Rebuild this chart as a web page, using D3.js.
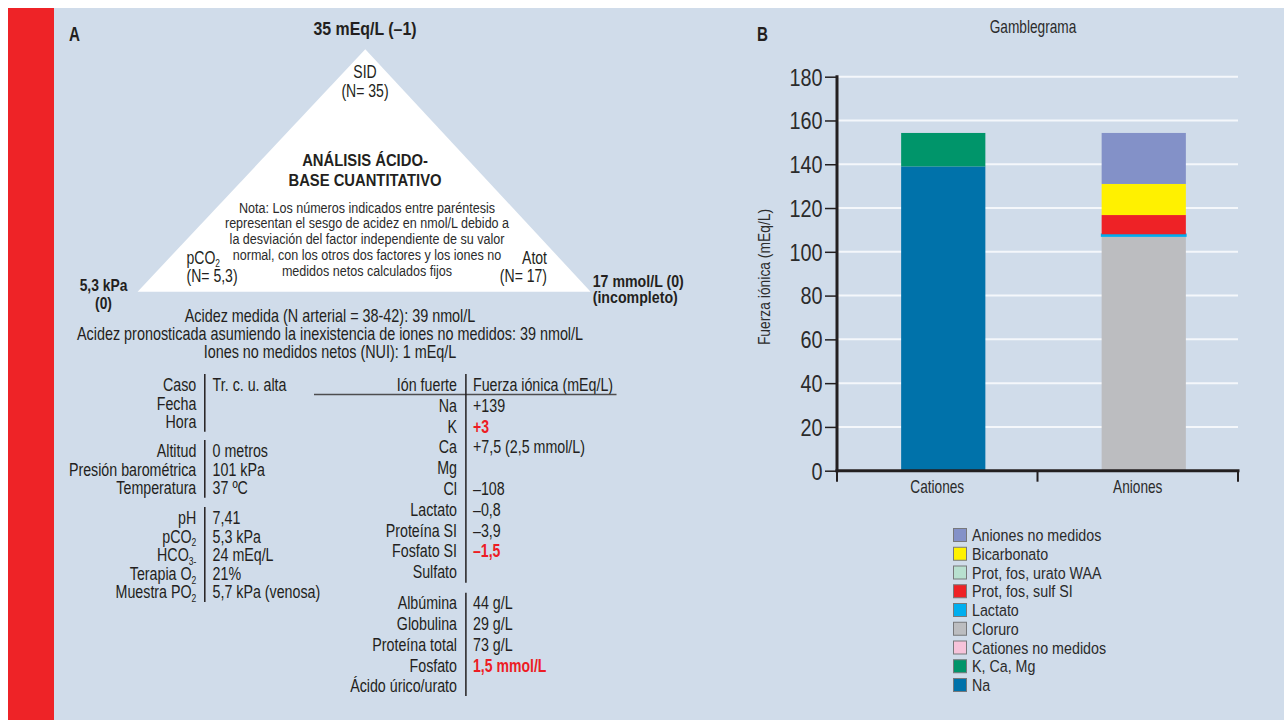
<!DOCTYPE html>
<html>
<head>
<meta charset="utf-8">
<script src="https://cdn.jsdelivr.net/npm/d3@7"></script>
<style>
  html, body { margin: 0; padding: 0; background: #ffffff; }
  svg { display: block; }
</style>
</head>
<body>
<svg id="fig" width="1284" height="720"></svg>
<script>
// ---------- Gamblegrama data ----------
const categories = ["Cationes", "Aniones"];
const seriesNames = ["Na", "K, Ca, Mg", "Cationes no medidos", "Cloruro", "Lactato",
                     "Prot, fos, sulf SI", "Prot, fos, urato WAA", "Bicarbonato", "Aniones no medidos"];
const cationValues = [139, 15.3, 0, 0, 0, 0, 0, 0, 0];
const anionValues  = [0, 0, 0, 107.2, 0.8, 8.8, 0, 14.2, 23.3];
const seriesColors = ["#0072aa", "#00956a", "#f6c3da", "#bcbdc0", "#00aeef",
                      "#ee2226", "#b8e0d0", "#fff100", "#8391c8"];
const yTicks = [0, 20, 40, 60, 80, 100, 120, 140, 160, 180];

// ---------- Acid-base summary texts ----------
const apexLabel = "35 mEq/L (–1)";
const leftCorner = ["5,3 kPa", "(0)"];
const rightCorner = ["17 mmol/L (0)", "(incompleto)"];
const triangleTitle = ["ANÁLISIS ÁCIDO-", "BASE CUANTITATIVO"];
const triangleNote = [
  "Nota: Los números indicados entre paréntesis",
  "representan el sesgo de acidez en nmol/L debido a",
  "la desviación del factor independiente de su valor",
  "normal, con los otros dos factores y los iones no",
  "medidos netos calculados fijos"
];
const vertexSID = ["SID", "(N= 35)"];
const vertexPCO2 = ["pCO_{2}", "(N= 5,3)"];
const vertexAtot = ["Atot", "(N= 17)"];
const acidezLines = [
  "Acidez medida (N arterial = 38-42): 39 nmol/L",
  "Acidez pronosticada asumiendo la inexistencia de iones no medidos: 39 nmol/L",
  "Iones no medidos netos (NUI): 1 mEq/L"
];

// patient table
const caseGroups = [
  [["Caso", "Tr. c. u. alta"], ["Fecha", ""], ["Hora", ""]],
  [["Altitud", "0 metros"], ["Presión barométrica", "101 kPa"], ["Temperatura", "37 ºC"]],
  [["pH", "7,41"], ["pCO_{2}", "5,3 kPa"], ["HCO_{3-}", "24 mEq/L"], ["Terapia O_{2}", "21%"], ["Muestra PO_{2}", "5,7 kPa (venosa)"]]
];

// strong ion table
const ionHeader = ["Ión fuerte", "Fuerza iónica (mEq/L)"];
const ionNames  = ["Na", "K", "Ca", "Mg", "Cl", "Lactato", "Proteína SI", "Fosfato SI", "Sulfato"];
const ionValues = ["+139", "+3", "+7,5 (2,5 mmol/L)", "", "–108", "–0,8", "–3,9", "–1,5", ""];
const ionAlert  = [false, true, false, false, false, false, false, true, false];
const protNames  = ["Albúmina", "Globulina", "Proteína total", "Fosfato", "Ácido úrico/urato"];
const protValues = ["44 g/L", "29 g/L", "73 g/L", "1,5 mmol/L", ""];
const protAlert  = [false, false, false, true, false];

// ---------- styling ----------
const FONT = "'Liberation Sans', Arial, Helvetica, sans-serif";
const INK = "#231f20";
const ALERT = "#ed1c24";
const BG = "#d0dcea";
const W = 1284, H = 720;

const svg = d3.select("#fig").attr("font-family", FONT);

svg.append("rect").attr("x", 54).attr("y", 8).attr("width", W - 54).attr("height", H - 8).attr("fill", BG);
svg.append("rect").attr("x", 8).attr("y", 8).attr("width", 46).attr("height", H - 8).attr("fill", "#ee2327");

// condensed text: a horizontally squeezed sans, with _{...} subscripts
function label(parent, x, y, content, o = {}) {
  const size = o.size || 18.5;
  const sx = o.sx || 0.77;
  const t = parent.append("text")
    .attr("transform", `translate(${x},${y}) scale(${sx},1)`)
    .attr("text-anchor", o.anchor || "start")
    .attr("font-size", size)
    .attr("font-weight", o.bold ? "bold" : null)
    .attr("fill", o.fill || INK);
  const re = /_\{([^}]*)\}/g;
  const drop = size * 0.2;
  let last = 0, m, shifted = false;
  while ((m = re.exec(content))) {
    if (m.index > last) {
      t.append("tspan").attr("dy", shifted ? -drop : null).text(content.slice(last, m.index));
      shifted = false;
    }
    t.append("tspan").attr("font-size", size * 0.6).attr("dy", drop).text(m[1]);
    shifted = true;
    last = re.lastIndex;
  }
  if (last < content.length) {
    t.append("tspan").attr("dy", shifted ? -drop : null).text(content.slice(last));
  }
  return t;
}

// ================= Panel A =================
const A = svg.append("g");
label(A, 69, 41, "A", { bold: true, size: 20, sx: 0.76 });

// triangle of the three independent variables
const tri = [[365.3, 49.3], [137.6, 291.7], [590.6, 291.7]];
A.append("path").attr("d", d3.line()(tri) + "Z").attr("fill", "#ffffff");

label(A, 365, 34.5, apexLabel, { bold: true, size: 18.5, sx: 0.86, anchor: "middle" });
label(A, 365, 78, vertexSID[0], { size: 18, sx: 0.78, anchor: "middle" });
label(A, 365, 97, vertexSID[1], { size: 18, sx: 0.78, anchor: "middle" });

triangleTitle.forEach((s, i) => label(A, 365, 166 + i * 19.7, s, { bold: true, size: 17, sx: 0.87, anchor: "middle" }));
triangleNote.forEach((s, i) => label(A, 367, 212.7 + i * 15.75, s, { size: 15.5, sx: 0.81, anchor: "middle", fill: "#2b2b2b" }));

vertexPCO2.forEach((s, i) => label(A, 186.5, 263.5 + i * 18.2, s, { size: 18, sx: 0.78 }));
vertexAtot.forEach((s, i) => label(A, 547, 263.5 + i * 18.2, s, { size: 18, sx: 0.78, anchor: "end" }));

leftCorner.forEach((s, i) => label(A, 103.5, 291 + i * 18, s, { bold: true, size: 16.5, sx: 0.84, anchor: "middle" }));
rightCorner.forEach((s, i) => label(A, 592.7, 286.5 + i * 16.5, s, { bold: true, size: 16.5, sx: 0.86 }));

acidezLines.forEach((s, i) => label(A, 330, 322 + i * 18.2, s, { size: 18, sx: 0.80, anchor: "middle" }));

// patient data table
const caseStarts = [391, 457, 524];
const caseStep = 18.6;
const keyX = 196.3, ruleX = 204.8, valX = 212.6;
caseGroups.forEach((rows, g) => {
  const y0 = caseStarts[g];
  A.append("line")
    .attr("x1", ruleX).attr("x2", ruleX)
    .attr("y1", y0 - 17).attr("y2", y0 + (rows.length - 1) * caseStep + 3.5)
    .attr("stroke", INK).attr("stroke-width", 1.5);
  rows.forEach(([k, v], i) => {
    label(A, keyX, y0 + i * caseStep, k, { anchor: "end" });
    if (v) label(A, valX, y0 + i * caseStep, v);
  });
});

// strong ion table
const ionKeyX = 457, ionRuleX = 465.9, ionValX = 473;
const ionY0 = 411.7, ionStep = 20.8;
label(A, ionKeyX, 390.7, ionHeader[0], { anchor: "end" });
label(A, ionValX, 390.7, ionHeader[1]);
A.append("line").attr("x1", 314).attr("x2", 616.5).attr("y1", 394.5).attr("y2", 394.5)
  .attr("stroke", "#4d4d4f").attr("stroke-width", 1.5);
A.append("line").attr("x1", ionRuleX).attr("x2", ionRuleX).attr("y1", 374).attr("y2", 582.7)
  .attr("stroke", INK).attr("stroke-width", 1.5);
ionNames.forEach((n, i) => {
  label(A, ionKeyX, ionY0 + i * ionStep, n, { anchor: "end" });
  if (ionValues[i]) label(A, ionValX, ionY0 + i * ionStep, ionValues[i],
    ionAlert[i] ? { bold: true, fill: ALERT, sx: 0.76 } : {});
});

const protY0 = 609.3, protStep = 20.75;
A.append("line").attr("x1", ionRuleX).attr("x2", ionRuleX).attr("y1", 592.7).attr("y2", 696)
  .attr("stroke", INK).attr("stroke-width", 1.5);
protNames.forEach((n, i) => {
  label(A, ionKeyX, protY0 + i * protStep, n, { anchor: "end" });
  if (protValues[i]) label(A, ionValX, protY0 + i * protStep, protValues[i],
    protAlert[i] ? { bold: true, fill: ALERT, sx: 0.76 } : {});
});

// ================= Panel B: Gamblegrama =================
const B = svg.append("g");
label(B, 757, 41, "B", { bold: true, size: 20, sx: 0.76 });
label(B, 1033, 33, "Gamblegrama", { size: 18, sx: 0.76, anchor: "middle", fill: "#2b2b2b" });

const y = d3.scaleLinear().domain([0, 180]).range([470.7, 76.7]);
const x = d3.scaleBand().domain(categories).range([837, 1238]);
const barW = x.bandwidth() * 0.42;
const barShift = (x.bandwidth() - barW) / 2 + 6;

// horizontal grid
B.append("g").selectAll("line").data(yTicks).join("line")
  .attr("x1", x.range()[0]).attr("x2", x.range()[1])
  .attr("y1", d => y(d)).attr("y2", d => y(d))
  .attr("stroke", "#f4f7fb").attr("stroke-width", 2);

// stacked columns
const rows = categories.map((c, ci) => {
  const r = { cat: c };
  seriesNames.forEach((s, si) => { r[s] = (ci === 0 ? cationValues : anionValues)[si]; });
  return r;
});
const stacked = d3.stack().keys(seriesNames)(rows);
const color = d3.scaleOrdinal().domain(seriesNames).range(seriesColors);

B.append("g").selectAll("g").data(stacked).join("g")
  .attr("fill", d => color(d.key))
  .attr("stroke", d => color(d.key))
  .selectAll("rect")
  .data(d => d.filter(p => p[1] - p[0] > 0))
  .join("rect")
  .attr("x", p => x(p.data.cat) + barShift)
  .attr("width", barW)
  .attr("y", p => y(p[1]))
  .attr("height", p => y(p[0]) - y(p[1]))
  // very thin segments get an outline so they remain visible
  .attr("stroke-width", p => (y(p[0]) - y(p[1]) < 3 ? 1.6 : 0));

// y axis
const yAxis = d3.axisLeft(y).tickValues(yTicks).tickSize(12).tickSizeOuter(0);
const gy = B.append("g").attr("transform", `translate(${x.range()[0]},0)`).call(yAxis)
  .attr("font-family", FONT);
gy.select(".domain").attr("stroke", INK).attr("stroke-width", 3)
  .attr("d", `M0,${y(0) + 1.5}V${y(180) - 1.5}`);
gy.selectAll(".tick line").attr("stroke", INK).attr("stroke-width", 1.5);
gy.selectAll(".tick text")
  .attr("x", null).attr("dy", null)
  .attr("transform", "translate(-14.5,8.3) scale(0.86,1)")
  .attr("font-size", 23).attr("fill", "#2b2b2b");

// x axis baseline with category separators
B.append("line").attr("x1", x.range()[0] - 1.5).attr("x2", x.range()[1] + 1.5)
  .attr("y1", y(0)).attr("y2", y(0)).attr("stroke", INK).attr("stroke-width", 3);
const seps = categories.map(c => x(c)).concat([x.range()[1]]);
B.append("g").selectAll("line").data(seps).join("line")
  .attr("x1", d => d).attr("x2", d => d)
  .attr("y1", y(0)).attr("y2", y(0) + 11)
  .attr("stroke", INK).attr("stroke-width", 2);
categories.forEach(c => label(B, x(c) + x.bandwidth() / 2, 492.5, c,
  { size: 17.5, sx: 0.78, anchor: "middle", fill: "#2b2b2b" }));

// y axis title
B.append("text")
  .attr("transform", "translate(770,277) rotate(-90) scale(0.84,1)")
  .attr("text-anchor", "middle").attr("font-size", 16.5).attr("fill", "#2b2b2b")
  .text("Fuerza iónica (mEq/L)");

// legend (top to bottom: last series first)
const legendNames = seriesNames.slice().reverse();
const lg = B.append("g");
legendNames.forEach((n, i) => {
  const cy = 535 + i * 18.75;
  lg.append("rect").attr("x", 953.5).attr("y", cy - 6.5).attr("width", 13).attr("height", 13)
    .attr("fill", color(n)).attr("stroke", "#77787b").attr("stroke-width", 1);
  label(lg, 972, cy + 6, n, { size: 17, sx: 0.84, fill: "#2b2b2b" });
});
</script>
</body>
</html>
